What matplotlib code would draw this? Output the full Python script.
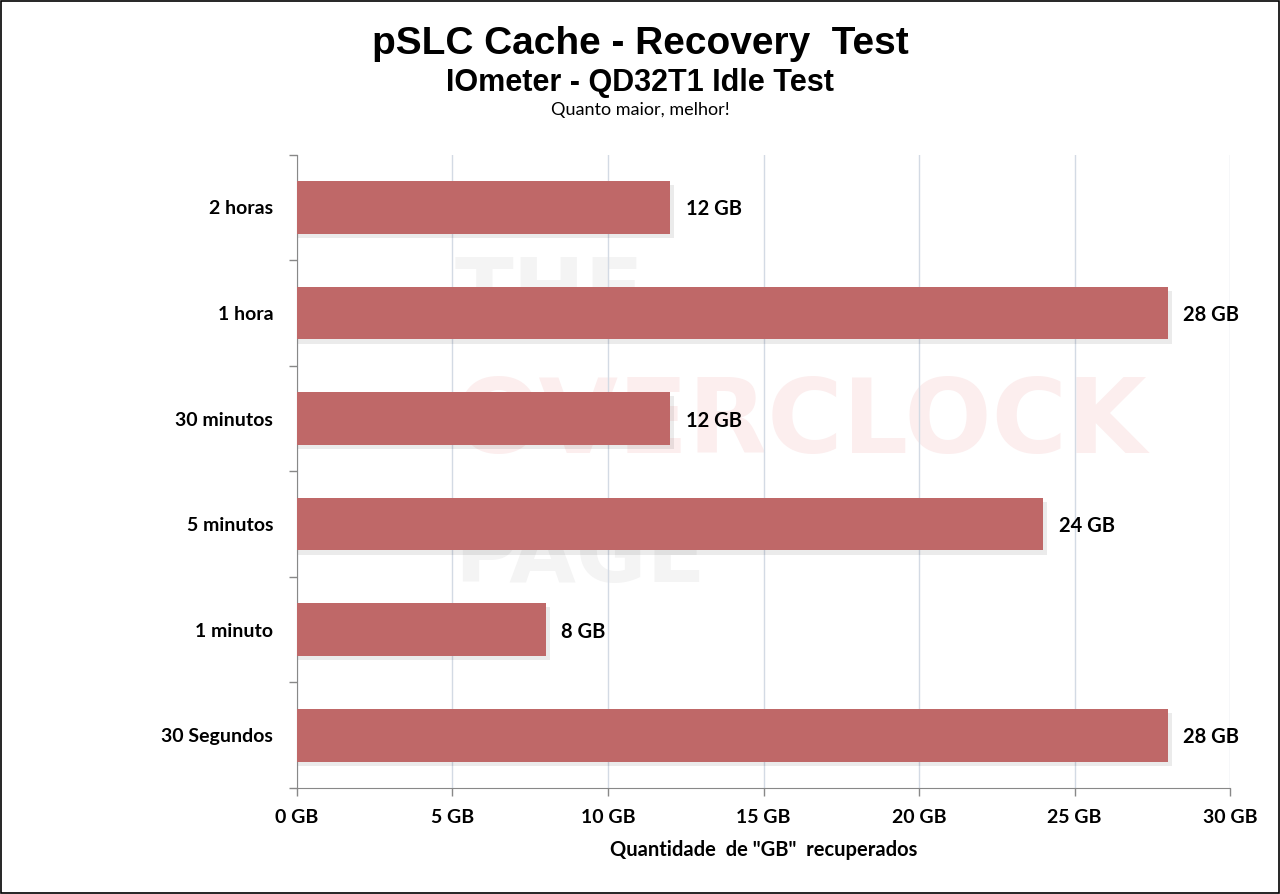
import matplotlib
matplotlib.use("Agg")
import matplotlib.pyplot as plt
from matplotlib.patches import Rectangle
from matplotlib.ticker import FixedLocator

categories = ["2 horas", "1 hora", "30 minutos", "5 minutos", "1 minuto", "30 Segundos"]
values = [12, 28, 12, 24, 8, 28]
xticks = [0, 5, 10, 15, 20, 25, 30]

BAR_COLOR = "#BF6868"
GRID_COLOR = "#D3DAE4"
LABEL_FONT = ["Lato", "DejaVu Sans"]

fig = plt.figure(figsize=(12.8, 8.94), dpi=100)

# faint watermark in a background axes
bg = fig.add_axes([0, 0, 1, 1], zorder=-1)
bg.set_axis_off()
bg.text(0.355, 0.67, "THE", fontsize=62, fontweight="bold", color="#F4F4F4",
        ha="left", va="center", family="DejaVu Sans")
bg.text(0.355, 0.525, "OVERCLOCK", fontsize=74, fontweight="bold", color="#FCEEEE",
        ha="left", va="center", family="DejaVu Sans")
bg.text(0.355, 0.375, "PAGE", fontsize=62, fontweight="bold", color="#F4F4F4",
        ha="left", va="center", family="DejaVu Sans")

ax = fig.add_axes([0.232, 0.1186, 0.729, 0.7084])
ax.patch.set_alpha(0)

y = list(range(len(categories)))
# soft shadow
ax.barh([i + 0.04 for i in y], [v + 0.12 for v in values], height=0.5,
        color="#000000", alpha=0.08, zorder=2)
ax.barh(y, values, height=0.5, color=BAR_COLOR, zorder=3)

for i, v in zip(y, values):
    ax.text(v + 0.5, i, f"{v} GB", va="center_baseline", ha="left", fontsize=14.5,
            fontweight="bold", family=LABEL_FONT, zorder=4)

ax.set_xlim(0, 30)
ax.set_ylim(len(categories) - 0.5, -0.5)
ax.xaxis.set_major_locator(FixedLocator(xticks))
ax.set_xticklabels([f"{t} GB" for t in xticks], fontsize=14, fontweight="bold",
                   family=LABEL_FONT)
ax.set_yticks(y)
ax.set_yticklabels(categories, fontsize=14, fontweight="bold", family=LABEL_FONT,
                   va="center_baseline")
ax.tick_params(axis="y", length=0, pad=17)
ax.yaxis.set_minor_locator(FixedLocator([i - 0.5 for i in range(len(categories) + 1)]))
ax.tick_params(axis="y", which="minor", length=6, color="#888888", width=1)
ax.tick_params(axis="x", length=6, color="#888888", width=1, pad=9)

ax.grid(axis="x", color=GRID_COLOR, lw=1, zorder=0)
ax.set_axisbelow(True)
for s in ("top", "right"):
    ax.spines[s].set_visible(False)
ax.spines["left"].set_color("#888888")
ax.spines["bottom"].set_color("#888888")

ax.set_xlabel('Quantidade  de "GB"  recuperados', fontsize=14.5, fontweight="bold",
              family=LABEL_FONT, labelpad=10)

fig.text(0.5, 0.951, "pSLC Cache - Recovery  Test", ha="center", va="center",
         fontsize=28, fontweight="bold", family="Liberation Sans")
fig.text(0.5, 0.907, "IOmeter - QD32T1 Idle Test", ha="center", va="center",
         fontsize=22, fontweight="bold", family="Liberation Sans")
fig.text(0.5, 0.877, "Quanto maior, melhor!", ha="center", va="center",
         fontsize=13, family=LABEL_FONT)

fig.add_artist(Rectangle((0.001, 0.001), 0.998, 0.998, transform=fig.transFigure,
                         fill=False, edgecolor="black", lw=1.2))

fig.savefig("out.png", dpi=100)
